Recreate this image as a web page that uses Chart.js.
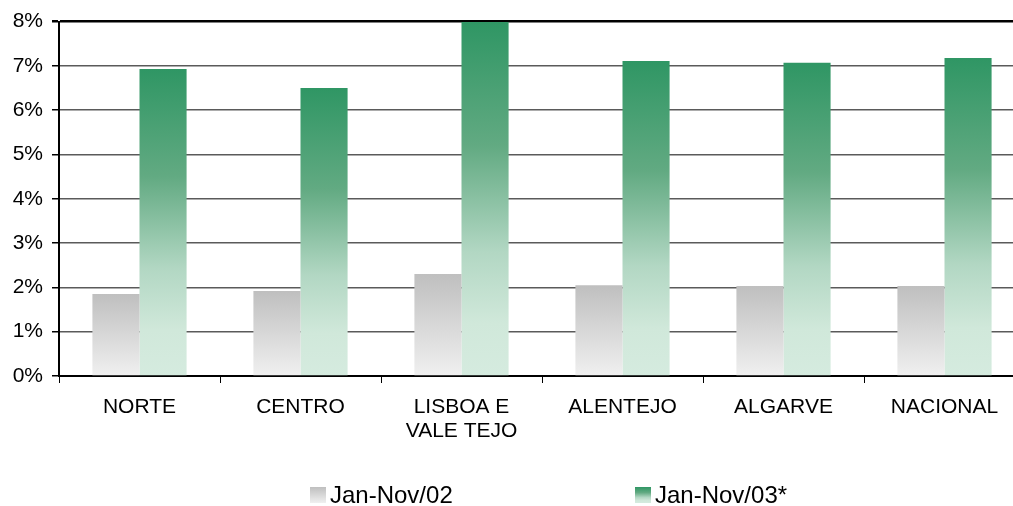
<!DOCTYPE html>
<html>
<head>
<meta charset="utf-8">
<script src="https://cdn.jsdelivr.net/npm/chart.js@4"></script>
<style>
  html, body { margin: 0; padding: 0; background: #fff; overflow: hidden; }
  #wrap { width: 1025px; height: 506px; }
</style>
</head>
<body>
<div id="wrap"><canvas id="chart" width="1025" height="506"></canvas></div>
<script>
const regions = ["NORTE", "CENTRO", ["LISBOA E", "VALE TEJO"], "ALENTEJO", "ALGARVE", "NACIONAL"];
const seriesNames = ["Jan-Nov/02", "Jan-Nov/03*"];
const values02 = [1.85, 1.92, 2.30, 2.05, 2.03, 2.03];
const values03 = [6.93, 6.50, 7.99, 7.11, 7.07, 7.18];
const yTicks = [0, 1, 2, 3, 4, 5, 6, 7, 8];

const FONT = "'Liberation Sans', Arial, sans-serif";

const grayStops = [[0, "#bfbfbf"], [1, "#f0f0f0"]];
const greenStops = [[0, "#2f9664"], [0.35, "#62aa82"], [0.65, "#b2d7c3"], [0.85, "#d0e8da"], [1, "#d5ebdf"]];

function makeGrad(ctx, y0, y1, stops) {
  const g = ctx.createLinearGradient(0, y0, 0, y1);
  stops.forEach(([o, c]) => g.addColorStop(o, c));
  return g;
}

// per-bar vertical gradient, like the original spreadsheet fill
function barFill(stops, fallback) {
  return (c) => {
    const chart = c.chart;
    if (!chart.chartArea || c.parsed == null) return fallback;
    const y = chart.scales.y;
    const top = y.getPixelForValue(c.parsed.y);
    const bottom = y.getPixelForValue(0);
    if (!isFinite(top) || bottom - top < 1) return fallback;
    return makeGrad(chart.ctx, top, bottom, stops);
  };
}

const spreadLegend = {
  id: "spreadLegend",
  afterDraw(chart) {
    const ctx = chart.ctx;
    const items = [
      { x: 310, stops: grayStops, text: chart.data.datasets[0].label },
      { x: 635, stops: greenStops, text: chart.data.datasets[1].label },
    ];
    ctx.save();
    items.forEach((it) => {
      ctx.fillStyle = makeGrad(ctx, 487, 503, it.stops);
      ctx.fillRect(it.x, 487, 16, 16);
      ctx.fillStyle = "#000";
      ctx.font = "24px " + FONT;
      ctx.textBaseline = "middle";
      ctx.textAlign = "left";
      ctx.fillText(it.text, it.x + 20, 496);
    });
    ctx.restore();
  },
};

new Chart(document.getElementById("chart"), {
  type: "bar",
  data: {
    labels: regions,
    datasets: [
      { label: seriesNames[0], data: values02, backgroundColor: barFill(grayStops, "#d8d8d8"), borderWidth: 0 },
      { label: seriesNames[1], data: values03, backgroundColor: barFill(greenStops, "#7bb995"), borderWidth: 0 },
    ],
  },
  options: {
    responsive: false,
    animation: false,
    layout: { padding: { top: 21, left: 0, right: 0, bottom: 0 } },
    datasets: { bar: { categoryPercentage: 0.585, barPercentage: 1 } },
    plugins: { legend: { display: false }, tooltip: { enabled: false } },
    scales: {
      x: {
        grid: { drawOnChartArea: false, drawTicks: true, tickLength: 7, tickColor: "#000", offset: true },
        border: { display: true, color: "#000", width: 2 },
        ticks: { color: "#000", font: { family: FONT, size: 21, lineHeight: 1.15 }, padding: 12, maxRotation: 0, autoSkip: false },
        afterFit: (s) => { s.height = 130; },
      },
      y: {
        min: yTicks[0],
        max: yTicks[yTicks.length - 1],
        afterBuildTicks: (s) => { s.ticks = yTicks.map((v) => ({ value: v })); },
        grid: {
          color: (c) => (c.tick && c.tick.value === 8 ? "#000" : "#5a5a5a"),
          lineWidth: (c) => (c.tick && c.tick.value === 8 ? 2.5 : 1.5),
          drawTicks: true,
          tickLength: 7,
          tickColor: "#000",
        },
        border: { display: true, color: "#000", width: 2 },
        ticks: { color: "#000", font: { family: FONT, size: 21 }, padding: 9, callback: (v) => v + "%" },
        afterFit: (s) => { s.width = 59; },
      },
    },
  },
  plugins: [spreadLegend],
});
</script>
</body>
</html>
